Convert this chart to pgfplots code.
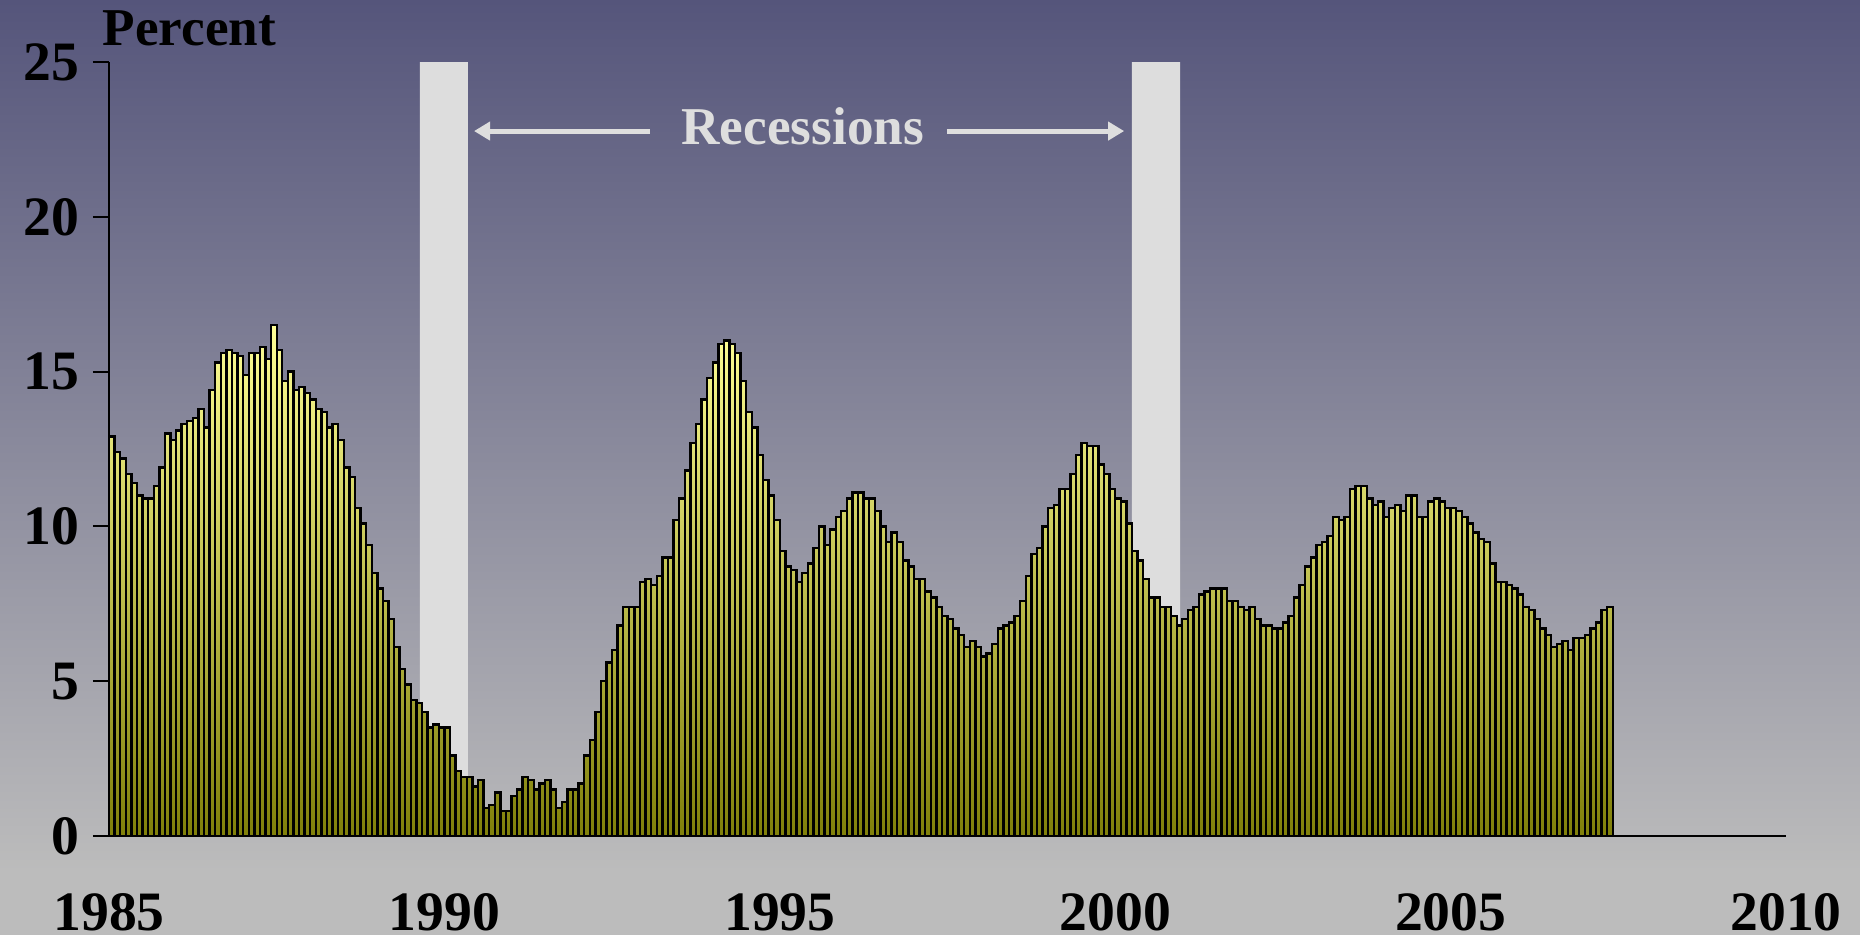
\documentclass[border=0pt]{standalone}
\usepackage{fontspec}
\setmainfont{Liberation Serif}
\usepackage{pgfplots}
\pgfplotsset{compat=1.18}
\usetikzlibrary{arrows.meta}

\definecolor{bgtop}{RGB}{85,85,123}
\definecolor{bgbot}{RGB}{188,188,188}
\definecolor{band}{RGB}{221,221,221}
\definecolor{bartop}{RGB}{255,255,150}
\definecolor{barmid}{RGB}{243,243,130}
\definecolor{barbot}{RGB}{128,128,10}
\definecolor{annot}{RGB}{222,222,222}

\newcommand\lbl{\fontsize{13.3pt}{16pt}\selectfont\bfseries}
\newcommand\tlbl{\fontsize{13.9pt}{16pt}\selectfont\bfseries}

\begin{document}
\begin{tikzpicture}
\path[use as bounding box] (0,0) rectangle (465pt,233.75pt);
\fill[bgbot] (0,0) rectangle (465pt,16pt);
\shade[top color=bgtop, bottom color=bgbot] (0,15.75pt) rectangle (465pt,233.75pt);
\node[anchor=base west, inner sep=0pt, font=\lbl] at (25.5pt,222.5pt) {Percent};
\begin{axis}[
  at={(27.25pt,24.75pt)}, anchor=south west,
  scale only axis, width=419.25pt, height=193.5pt,
  xmin=0, xmax=300, ymin=0, ymax=25,
  axis x line*=bottom, axis y line*=left,
  axis line style={black, line width=0.5pt, -},
  xtick={0,60,...,300}, xticklabels={1985,1990,1995,2000,2005,2010},
  ytick={0,5,...,25}, yticklabels={0,5,10,15,20,25},
  xtick style={draw=none},
  ytick style={black, line width=0.5pt},
  tick align=outside, major tick length=4pt,
  ticklabel style={font=\tlbl},
  xticklabel style={inner sep=0pt, yshift=-10.2pt},
  clip=false,
]
% recession bands (months since Jan 1985)
\addplot[fill=band, draw=none] coordinates {(55.6,0) (55.6,25) (64.2,25) (64.2,0)} \closedcycle;
\addplot[fill=band, draw=none] coordinates {(183.0,0) (183.0,25) (191.6,25) (191.6,0)} \closedcycle;

% monthly values, Jan 1985 - May 2007
\addplot[ybar, bar width=1, draw=black, line width=0.6pt,
  top color=bartop, middle color=barmid, bottom color=barbot]
  table[row sep=\\, x expr=\coordindex+0.5, y=v] {
v\\
12.9\\ 12.4\\ 12.2\\ 11.7\\ 11.4\\ 11.0\\ 10.9\\ 10.9\\ 11.3\\ 11.9\\ 13.0\\ 12.8\\
13.1\\ 13.3\\ 13.4\\ 13.5\\ 13.8\\ 13.2\\ 14.4\\ 15.3\\ 15.6\\ 15.7\\ 15.6\\ 15.5\\
14.9\\ 15.6\\ 15.6\\ 15.8\\ 15.4\\ 16.5\\ 15.7\\ 14.7\\ 15.0\\ 14.4\\ 14.5\\ 14.3\\
14.1\\ 13.8\\ 13.7\\ 13.2\\ 13.3\\ 12.8\\ 11.9\\ 11.6\\ 10.6\\ 10.1\\ 9.4\\ 8.5\\
8.0\\ 7.6\\ 7.0\\ 6.1\\ 5.4\\ 4.9\\ 4.4\\ 4.3\\ 4.0\\ 3.5\\ 3.6\\ 3.5\\
3.5\\ 2.6\\ 2.1\\ 1.9\\ 1.9\\ 1.6\\ 1.8\\ 0.9\\ 1.0\\ 1.4\\ 0.8\\ 0.8\\
1.3\\ 1.5\\ 1.9\\ 1.8\\ 1.5\\ 1.7\\ 1.8\\ 1.5\\ 0.9\\ 1.1\\ 1.5\\ 1.5\\
1.7\\ 2.6\\ 3.1\\ 4.0\\ 5.0\\ 5.6\\ 6.0\\ 6.8\\ 7.4\\ 7.4\\ 7.4\\ 8.2\\
8.3\\ 8.1\\ 8.4\\ 9.0\\ 9.0\\ 10.2\\ 10.9\\ 11.8\\ 12.7\\ 13.3\\ 14.1\\ 14.8\\
15.3\\ 15.9\\ 16.0\\ 15.9\\ 15.6\\ 14.7\\ 13.7\\ 13.2\\ 12.3\\ 11.5\\ 11.0\\ 10.2\\
9.2\\ 8.7\\ 8.6\\ 8.2\\ 8.5\\ 8.8\\ 9.3\\ 10.0\\ 9.4\\ 9.9\\ 10.3\\ 10.5\\
10.9\\ 11.1\\ 11.1\\ 10.9\\ 10.9\\ 10.5\\ 10.0\\ 9.5\\ 9.8\\ 9.5\\ 8.9\\ 8.7\\
8.3\\ 8.3\\ 7.9\\ 7.7\\ 7.4\\ 7.1\\ 7.0\\ 6.7\\ 6.5\\ 6.1\\ 6.3\\ 6.1\\
5.8\\ 5.9\\ 6.2\\ 6.7\\ 6.8\\ 6.9\\ 7.1\\ 7.6\\ 8.4\\ 9.1\\ 9.3\\ 10.0\\
10.6\\ 10.7\\ 11.2\\ 11.2\\ 11.7\\ 12.3\\ 12.7\\ 12.6\\ 12.6\\ 12.0\\ 11.7\\ 11.2\\
10.9\\ 10.8\\ 10.1\\ 9.2\\ 8.9\\ 8.3\\ 7.7\\ 7.7\\ 7.4\\ 7.4\\ 7.1\\ 6.8\\
7.0\\ 7.3\\ 7.4\\ 7.8\\ 7.9\\ 8.0\\ 8.0\\ 8.0\\ 7.6\\ 7.6\\ 7.4\\ 7.3\\
7.4\\ 7.0\\ 6.8\\ 6.8\\ 6.7\\ 6.7\\ 6.9\\ 7.1\\ 7.7\\ 8.1\\ 8.7\\ 9.0\\
9.4\\ 9.5\\ 9.7\\ 10.3\\ 10.2\\ 10.3\\ 11.2\\ 11.3\\ 11.3\\ 10.9\\ 10.7\\ 10.8\\
10.3\\ 10.6\\ 10.7\\ 10.5\\ 11.0\\ 11.0\\ 10.3\\ 10.3\\ 10.8\\ 10.9\\ 10.8\\ 10.6\\
10.6\\ 10.5\\ 10.3\\ 10.1\\ 9.8\\ 9.6\\ 9.5\\ 8.8\\ 8.2\\ 8.2\\ 8.1\\ 8.0\\
7.8\\ 7.4\\ 7.3\\ 7.0\\ 6.7\\ 6.5\\ 6.1\\ 6.2\\ 6.3\\ 6.0\\ 6.4\\ 6.4\\
6.5\\ 6.7\\ 6.9\\ 7.3\\ 7.4\\
};

\draw[annot, line width=1.25pt, -{Triangle[length=4pt,width=4.5pt]}]
  (axis cs:96.8,22.77) -- (axis cs:65.3,22.77);
\draw[annot, line width=1.25pt, -{Triangle[length=4pt,width=4.5pt]}]
  (axis cs:149.9,22.77) -- (axis cs:181.6,22.77);
\node[annot, font=\lbl, anchor=base] at (axis cs:124.1,22.32) {Recessions};
\end{axis}
\end{tikzpicture}
\end{document}
